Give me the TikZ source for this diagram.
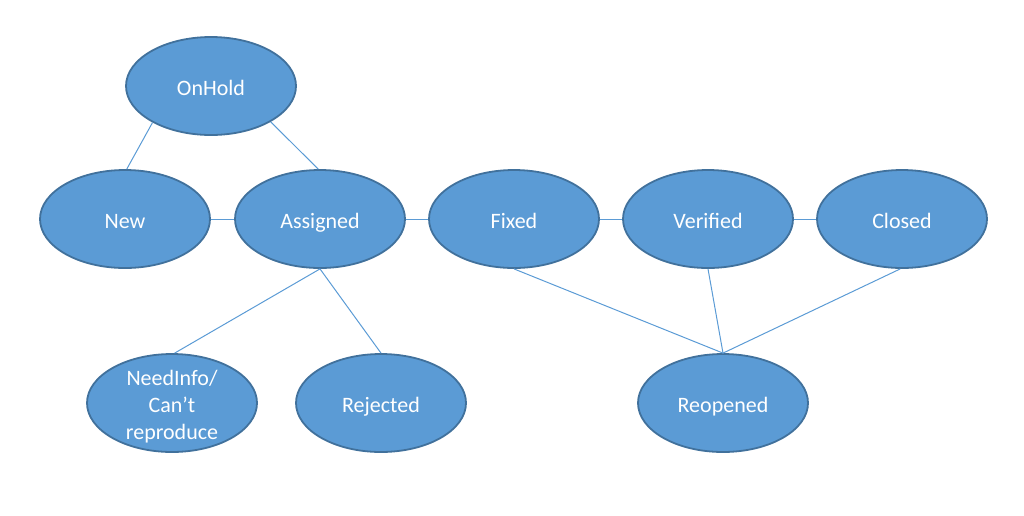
\documentclass[tikz,border=0pt]{standalone}
\usepackage{fontspec}
\setmainfont{Carlito}
\usetikzlibrary{shapes.geometric}
\definecolor{nodefill}{HTML}{5B9BD5}
\definecolor{nodeborder}{HTML}{41719C}
\definecolor{linkcol}{HTML}{5B9BD5}
\tikzset{
  state/.style={ellipse, draw=nodeborder, line width=1.8pt, fill=nodefill,
    minimum width=170pt, minimum height=98pt, inner sep=0pt,
    text height=20pt, text depth=2pt,
    text=white, align=center, font=\fontsize{22}{27}\selectfont},
  link/.style={draw=linkcol, line width=1pt}
}
\begin{document}
\begin{tikzpicture}[x=1pt,y=-1pt]
\useasboundingbox (0,0) rectangle (1024,515);
\node[state] (onhold) at (211,86) {OnHold};
\node[state] (new) at (125,219) {New};
\node[state] (assigned) at (320,219) {Assigned};
\node[state] (fixed) at (514,219) {Fixed};
\node[state] (verified) at (708,219) {Verified};
\node[state] (closed) at (902,219) {Closed};
\node[state, text height=72pt, text depth=0pt, inner ysep=-3pt] (needinfo) at (172,403) {NeedInfo/\\Can’t\\reproduce};
\node[state] (rejected) at (381,403) {Rejected};
\node[state] (reopened) at (723,403) {Reopened};
\draw[link] (onhold.212) -- (new.88);
\draw[link] (onhold.329) -- (assigned.92);
\draw[link] (new) -- (assigned);
\draw[link] (assigned) -- (fixed);
\draw[link] (fixed) -- (verified);
\draw[link] (verified) -- (closed);
\draw[link] (assigned.south) -- (needinfo.87);
\draw[link] (assigned.south) -- (rejected.north);
\draw[link] (fixed.south) -- (reopened.north);
\draw[link] (verified.south) -- (reopened.north);
\draw[link] (closed.268) -- (reopened.north);
\end{tikzpicture}
\end{document}
